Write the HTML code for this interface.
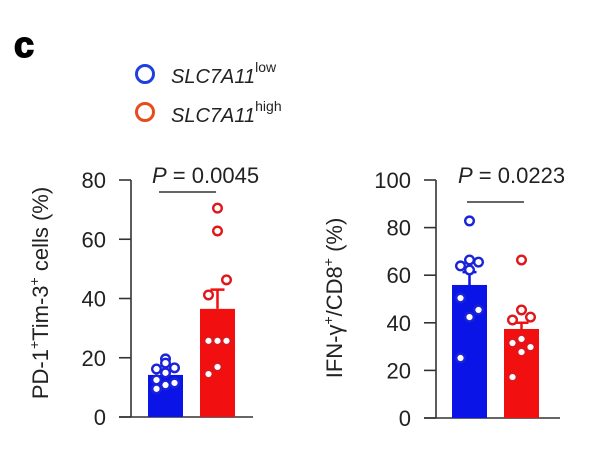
<!DOCTYPE html>
<html><head><meta charset="utf-8"><style>
html,body{margin:0;padding:0;background:#fff;}
svg{display:block;font-family:"Liberation Sans",sans-serif;}
</style></head><body>
<svg id="fig" width="604" height="476" viewBox="0 0 604 476">
<text x="14" y="57" font-size="36" font-weight="bold" stroke="#000" stroke-width="1.5">c</text>
<g>
<circle cx="145" cy="74" r="8.5" fill="none" stroke="#1f3fe0" stroke-width="3"/>
<text x="171" y="83" font-size="20" font-style="italic" fill="#222">SLC7A11<tspan font-style="normal" font-size="14" dy="-11">low</tspan></text>
<circle cx="145" cy="112" r="8.5" fill="none" stroke="#e84a1e" stroke-width="3"/>
<text x="171" y="122" font-size="20" font-style="italic" fill="#222">SLC7A11<tspan font-style="normal" font-size="14" dy="-11">high</tspan></text>
</g>
<g id="c1"></g>
<g id="c2"></g>
</svg>
<script>
const left_ticks=[0,20,40,60,80];
const left_means=[14.2,36.5];
const left_errs=[16,43];
const left_low=[19.6,18.2,16.6,16.2,14.9,12.5,11.5,10.8,9.5];
const left_high=[70.5,62.8,46.3,41.2,25.7,25.7,25.7,16.9,14.5];
const right_ticks=[0,20,40,60,80,100];
const right_means=[55.9,37.4];
const right_errs=[61.3,40];
const right_low=[82.8,66.4,65.5,63.9,62.2,50.4,45.4,42.4,25.2];
const right_high=[66.4,45.4,42.4,41.2,33.2,31.5,29.8,27.7,17.2];
const NS='http://www.w3.org/2000/svg';
function mk(p,t,a){const e=document.createElementNS(NS,t);for(const k in a)e.setAttribute(k,a[k]);p.appendChild(e);return e;}
const jit=[0,0,9,-9,0,-9,9,0,-9];
function chart(g,o){
  const y=v=>o.y0-(v-0)/(o.max)*(o.y0-o.yTop);
  const ax=mk(g,'path',{d:`M${o.ax} ${y(o.max)}V${o.y0}M${o.ax-12} ${o.y0}H${o.xEnd}`,stroke:'#333','stroke-width':1.6,fill:'none'});
  
  
  o.ticks.forEach(t=>{
    const l=mk(g,'line',{x1:o.ax-12,x2:o.ax,y1:y(t),y2:y(t),stroke:'#333','stroke-width':1.6});
    
    
    const tx=mk(g,'text',{x:o.ax-25,y:y(t)+8,'font-size':22,'text-anchor':'end',fill:'#222'});
    tx.textContent=t;
    
    
  });
  const cols=['#0a14e6','#f20f0f'], strokes=['#1a23d8','#e0161a'];
  const bx=o.bx, bw=35;
  o.means.forEach((m,i)=>{
    const cx=bx[i]+bw/2;
    const e=mk(g,'path',{d:`M${cx} ${y(m)}V${y(o.errs[i])}M${cx-7} ${y(o.errs[i])}H${cx+7}`,stroke:cols[i],'stroke-width':2.5,fill:'none'});
    
    
    const r=mk(g,'rect',{x:bx[i],y:y(m),width:bw,height:o.y0-y(m),fill:cols[i]});
    
    
  });
  [o.low,o.high].forEach((arr,i)=>{
    const cx=bx[i]+bw/2;
    arr.forEach((v,j)=>{
      const c=mk(g,'circle',{cx:cx+jit[j],cy:y(v),r:4.3,fill:'#fff',stroke:strokes[i],'stroke-width':2.4});
      
      
    });
  });
  const s=mk(g,'line',{x1:o.sig[0],x2:o.sig[1],y1:o.sig[2],y2:o.sig[2],stroke:'#333','stroke-width':1.6});
  
  
  const p=mk(g,'text',{x:o.px,y:183,'font-size':22,fill:'#222'});
  p.innerHTML='<tspan font-style="italic">P</tspan> = '+o.p;
  
  
  const t=mk(g,'text',{transform:`translate(${o.tx},${o.ty}) rotate(-90)`,'font-size':22,'text-anchor':'middle',fill:'#222'});
  t.innerHTML=o.title;
  
  
}
chart(document.getElementById('c1'),{id:'left-chart',y0:417,yTop:180,max:80,ax:131,xEnd:253,ticks:left_ticks,means:left_means,errs:left_errs,low:left_low,high:left_high,bx:[148,200],sig:[159,216,192],px:152,p:'0.0045',tx:48,ty:293,
 title:'PD-1<tspan font-size="14" dy="-9">+</tspan><tspan dy="9">Tim-3</tspan><tspan font-size="14" dy="-9">+</tspan><tspan dy="9"> cells (%)</tspan>'});
chart(document.getElementById('c2'),{id:'right-chart',y0:418,yTop:180,max:100,ax:436,xEnd:560,ticks:right_ticks,means:right_means,errs:right_errs,low:right_low,high:right_high,bx:[452,504],sig:[467,524,202],px:458,p:'0.0223',tx:342,ty:298,
 title:'IFN-γ<tspan font-size="14" dy="-9">+</tspan><tspan dy="9">/CD8</tspan><tspan font-size="14" dy="-9">+</tspan><tspan dy="9"> (%)</tspan>'});
</script>
</body></html>
